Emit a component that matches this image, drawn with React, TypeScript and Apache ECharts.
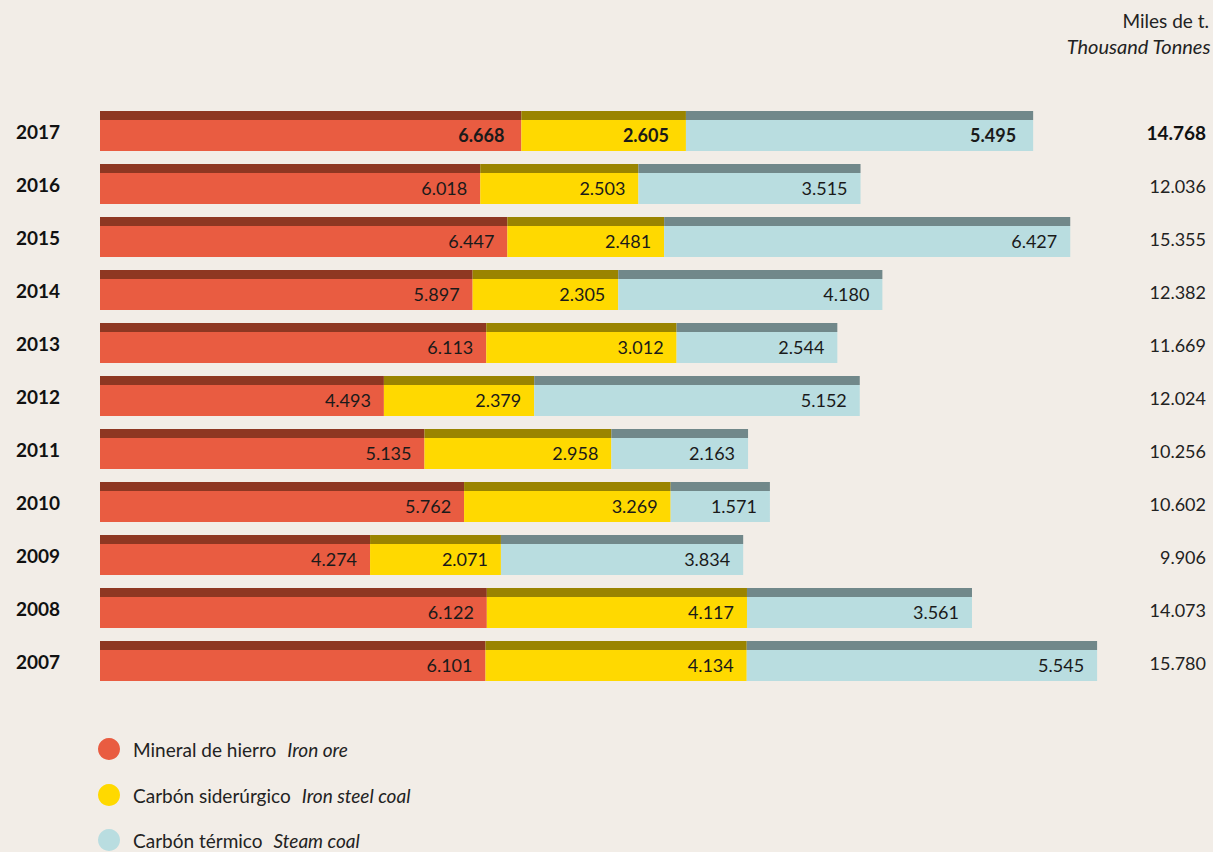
import React, { useEffect, useRef } from "react";
import * as echarts from "echarts";

const years = ["2017", "2016", "2015", "2014", "2013", "2012", "2011", "2010", "2009", "2008", "2007"];
const ironOre = [6668, 6018, 6447, 5897, 6113, 4493, 5135, 5762, 4274, 6122, 6101];
const ironSteelCoal = [2605, 2503, 2481, 2305, 3012, 2379, 2958, 3269, 2071, 4117, 4134];
const steamCoal = [5495, 3515, 6427, 4180, 2544, 5152, 2163, 1571, 3834, 3561, 5545];
const totals = ["14.768", "12.036", "15.355", "12.382", "11.669", "12.024", "10.256", "10.602", "9.906", "14.073", "15.780"];

const seriesNames = ["Mineral de hierro", "Carbón siderúrgico", "Carbón térmico"];
const seriesEnglish = ["Iron ore", "Iron steel coal", "Steam coal"];
const lightColors = ["#E95C41", "#FFD900", "#B9DDE0"];
const darkColors = ["#8E3722", "#9A8400", "#71888A"];

const FONT = "Lato, 'Noto Sans', sans-serif";

const fmt = (v: number) => {
  const s = String(Math.round(v));
  return s.replace(/\B(?=(\d{3})+(?!\d))/g, ".");
};

const stripe = (dark: string, light: string) =>
  new echarts.graphic.LinearGradient(0, 0, 0, 1, [
    { offset: 0, color: dark },
    { offset: 0.225, color: dark },
    { offset: 0.225, color: light },
    { offset: 1, color: light },
  ]);

export default function App() {
  const ref = useRef<HTMLDivElement>(null);
  useEffect(() => {
    if (!ref.current) return;
    const chart = echarts.init(ref.current, undefined, { renderer: "svg" });
    const allData = [ironOre, ironSteelCoal, steamCoal];
    const series = allData.map((arr, si) => ({
      name: seriesNames[si],
      type: "bar",
      stack: "total",
      barWidth: 40,
      itemStyle: { color: stripe(darkColors[si], lightColors[si]) },
      label: {
        show: true,
        position: "insideRight",
        distance: 13,
        offset: [0, 4],
        color: "#1a1a1a",
        fontSize: 18,
        fontFamily: FONT,
        formatter: (p: any) => fmt(p.value),
      },
      data: arr.map((v, i) =>
        i === 0 ? { value: v, label: { fontWeight: "bold", distance: 17 } } : v
      ),
    }));

    const legendTops = [738, 784, 829];
    const legends = seriesNames.map((n, i) => ({
      orient: "vertical",
      left: 98,
      top: legendTops[i],
      padding: 0,
      itemWidth: 22,
      itemHeight: 22,
      icon: "circle",
      selectedMode: false,
      data: [{ name: n, itemStyle: { color: lightColors[i] } }],
      formatter: (name: string) => {
        const k = seriesNames.indexOf(name);
        return `{a|${name}}{b|${seriesEnglish[k]}}`;
      },
      textStyle: {
        padding: [0, 0, 0, 8],
        rich: {
          a: { fontSize: 19, lineHeight: 20, color: "#222", fontFamily: FONT },
          b: { fontSize: 19, lineHeight: 20, color: "#222", fontStyle: "italic", fontFamily: FONT, padding: [0, 0, 0, 11] },
        },
      },
    }));

    chart.setOption({
      animation: false,
      backgroundColor: "#F2EDE7",
      grid: { left: 100, top: 104.5, width: 1011, height: 583, containLabel: false },
      xAxis: { type: "value", min: 0, max: 16000, show: false },
      yAxis: [
        {
          type: "category",
          inverse: true,
          data: years,
          axisLine: { show: false },
          axisTick: { show: false },
          axisLabel: {
            align: "left",
            margin: 84,
            fontSize: 19,
            fontWeight: "bold",
            color: "#111",
            fontFamily: FONT,
          },
        },
        {
          type: "category",
          inverse: true,
          position: "right",
          data: totals,
          axisLine: { show: false },
          axisTick: { show: false },
          axisLabel: {
            align: "right",
            margin: 95,
            padding: [3, 0, 0, 0],
            fontFamily: FONT,
            formatter: (v: string, i: number) => (i === 0 ? `{b|${v}}` : `{n|${v}}`),
            rich: {
              b: { fontSize: 19, fontWeight: "bold", color: "#111", fontFamily: FONT },
              n: { fontSize: 18, color: "#222", fontFamily: FONT },
            },
          },
        },
      ],
      legend: legends,
      graphic: [
        {
          type: "text",
          right: 4,
          top: 11,
          style: { text: "Miles de t.", fontSize: 19, fill: "#222", fontFamily: FONT, align: "right" },
        },
        {
          type: "text",
          right: 2,
          top: 36,
          style: { text: "Thousand Tonnes", fontSize: 20, fill: "#222", fontStyle: "italic", fontFamily: FONT, align: "right" },
        },
      ],
      series,
    });
    return () => chart.dispose();
  }, []);
  return (
    <div
      ref={ref}
      style={{ position: "absolute", left: 0, top: 0, width: 1213, height: 852 }}
    />
  );
}
